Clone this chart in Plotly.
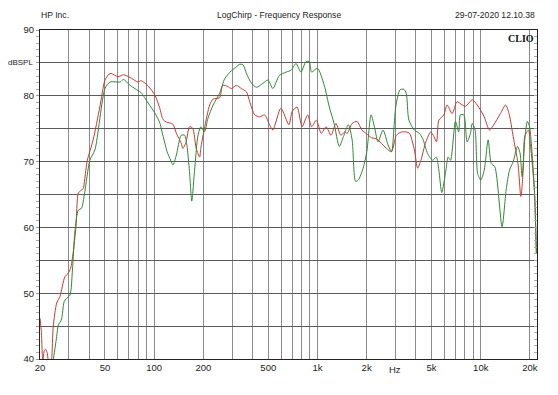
import plotly.graph_objects as go
import math

# ---- data ----
red_freq = [20.0, 20.4, 20.8, 21.2, 21.6, 22.1, 22.7, 23.2, 23.6, 24.1, 25.3, 26.5, 28.4, 29.7, 30.8, 31.9, 33.2, 34.3, 35.5, 36.8, 37.5, 39.0,
            42.3, 46.5, 50.0, 53.0, 54.5, 60.1, 64.9, 71.1, 79.6, 83.1, 91.9, 101.5, 108.0, 113.4, 119.0, 130.0, 136.8, 146.4, 149.9,
            157, 164.6, 172, 181, 190, 193, 203, 218.8, 229.6, 240.3, 251.8, 263.8, 283, 296.8, 318.6, 341.9, 367.4, 384.8, 413,
            442.7, 474.8, 509, 533, 596.9, 669, 700, 750, 805, 871, 921, 985, 1055, 1130, 1211, 1297, 1390, 1467, 1522, 1631,
            1747, 1872, 2006, 2150, 2280, 2414, 2648, 2840, 3044, 3263, 3497, 3660, 3922, 4107, 4300, 4610, 4940, 5170, 5360,
            5540, 5940, 6220, 6680, 7160, 7700, 8070, 8250, 8870, 9510, 10500, 11300, 12000, 13200, 14200, 14900, 15800, 16900,
            17600, 18200, 18600, 19600, 20100, 21300, 21900]
red_db = [46.2, 44.0, 39.5, 41.2, 41.5, 41.0, 39.0, 38.5, 40.0, 44.9, 48.5, 49.5, 52.5, 53.0, 53.8, 56.1, 60.1, 65.2, 65.6, 65.9, 67.2, 70.2,
          73.3, 78.3, 82.4, 83.3, 83.4, 82.9, 83.2, 82.8, 82.1, 82.3, 81.5, 80.0, 78.2, 76.4, 76.0, 75.7, 74.3, 72.8, 72.0,
          73.0, 75.3, 75.1, 72.0, 70.7, 72.0, 75.0, 78.6, 79.5, 79.6, 79.7, 81.6, 81.4, 81.1, 81.6, 81.1, 80.6, 79.1, 77.1,
          76.8, 77.1, 75.6, 74.8, 78.1, 75.6, 77.6, 78.3, 75.3, 77.1, 75.3, 76.3, 74.3, 75.3, 74.0, 75.8, 74.0, 74.5, 74.3, 75.8,
          76.1, 74.8, 74.2, 73.6, 73.5, 73.0, 72.0, 71.5, 74.0, 74.5, 74.5, 74.3, 71.8, 69.0, 70.2, 73.0, 74.5, 73.8, 73.0,
          76.3, 77.1, 78.6, 77.3, 79.1, 78.6, 78.4, 78.6, 79.4, 78.6, 76.8, 74.8, 75.6, 77.3, 78.6, 77.3, 73.8, 69.7,
          64.7, 68.7, 73.8, 74.8, 72.8, 65.7, 56.1]

green_freq = [23.6, 24.1, 25.3, 25.9, 27.0, 28.1, 29.0, 30.5, 31.6, 32.7, 34.3, 35.9, 37.5, 40.4, 43.4, 50.0, 53.7, 61.9, 64.9, 71.1,
              79.6, 83.1, 91.9, 101.5, 108.6, 111, 116.3, 120, 124.8, 130.4, 136.8, 146.4, 153.7, 158.7, 164.6, 170, 176.6, 185.6,
              193.5, 203, 213.6, 229.6, 251.8, 270.6, 296.8, 318.6, 334.7, 350.7, 367.4, 394.6, 423.8, 464.3, 497.6, 533, 585,
              643, 690, 739, 793, 850, 890, 921, 1000, 1100, 1182, 1264, 1361, 1443, 1547, 1631, 1712, 1780, 1904, 2006, 2130,
              2245, 2350, 2520, 2710, 2840, 3015, 3200, 3380, 3497, 3630, 3922, 4200, 4410, 4730, 5080, 5340, 5540, 5770, 6120,
              6310, 6530, 7000, 7330, 7500, 7870, 8250, 8650, 8870, 9230, 9570, 10000, 10500, 11100, 11600, 12200, 13500, 14300,
              15000, 15800, 16800, 17400, 17900, 18700, 19300, 19900, 20400, 21300, 21900]
green_db = [38.0, 39.8, 43.4, 45.2, 45.9, 48.7, 49.2, 49.7, 53.5, 59.3, 62.6, 62.9, 65.2, 70.2, 71.8, 81.1, 82.1, 82.1, 82.5, 81.6,
            80.8, 80.5, 78.9, 77.3, 75.8, 74.8, 72.8, 71.5, 70.5, 69.5, 71.0, 74.0, 74.0, 72.5, 68.5, 64.0, 68.5, 74.0,
            75.3, 74.5, 76.6, 78.6, 80.4, 82.6, 83.8, 84.4, 84.8, 84.7, 83.4, 81.9, 81.3, 81.9, 82.4, 81.1, 83.1,
            83.6, 83.9, 84.9, 83.6, 85.2, 85.2, 83.6, 84.2, 81.6, 78.3, 75.8, 72.3, 73.8, 75.6, 73.3, 67.0, 67.2, 69.0, 71.5, 77.1,
            75.0, 73.0, 74.8, 72.5, 71.5, 78.3, 80.9, 81.0, 80.4, 76.3, 74.8, 74.3, 73.5, 71.2, 70.2, 70.7, 68.7, 65.3, 68.7,
            70.7, 70.2, 76.1, 74.5, 77.1, 77.1, 73.0, 74.3, 75.8, 74.8, 68.2, 67.2, 68.7, 73.3, 69.7, 69.2, 60.1, 65.7,
            68.7, 70.0, 72.3, 71.3, 67.7, 74.0, 76.1, 75.3, 72.8, 65.7, 56.1]

grid_freqs = [20, 30, 40, 50, 60, 70, 80, 90, 100, 200, 300, 400, 500, 600, 700, 800, 900,
              1000, 2000, 3000, 4000, 5000, 6000, 7000, 8000, 9000, 10000, 20000]
labeled = {20: "20", 50: "50", 100: "100", 200: "200", 500: "500", 1000: "1k", 2000: "2k",
           5000: "5k", 10000: "10k", 20000: "20k"}
x_ticktext = [labeled.get(f, "") for f in grid_freqs]
y_vals = [40, 45, 50, 55, 60, 65, 70, 75, 80, 85, 90]
y_text = [str(v) if v % 10 == 0 else "" for v in y_vals]

FONT = "Liberation Sans, Arial, sans-serif"

# page has an 8px body margin, so the figure is 8px smaller and shifted
PL, PT, PW, PH = 40, 30, 497, 329   # plot area in screen pixels

fig = go.Figure()
fig.add_trace(go.Scatter(x=red_freq, y=red_db, mode="lines",
                         line=dict(color="#c83a32", width=1, shape="spline", smoothing=0.7),
                         showlegend=False, hoverinfo="skip"))
fig.add_trace(go.Scatter(x=green_freq, y=green_db, mode="lines",
                         line=dict(color="#2f8a34", width=1, shape="spline", smoothing=0.7),
                         showlegend=False, hoverinfo="skip"))
fig.add_trace(go.Scatter(x=[1000], y=[None], yaxis="y2", mode="lines", showlegend=False, hoverinfo="skip"))

fig.update_layout(
    width=550, height=387,
    margin=dict(l=PL - 8, r=550 - (PL - 8) - PW, t=PT - 8, b=387 - (PT - 8) - PH),
    paper_bgcolor="white", plot_bgcolor="white",
    font=dict(family=FONT, size=10, color="#222"),
    xaxis=dict(type="log", range=[math.log10(20), math.log10(22100)],
               tickmode="array", tickvals=grid_freqs, ticktext=x_ticktext,
               showgrid=True, gridcolor="#8a8a8a", gridwidth=1,
               showline=True, linecolor="#222", linewidth=1, mirror=True,
               ticks="", tickfont=dict(family=FONT, size=9.5, color="#222"),
               zeroline=False),
    yaxis=dict(range=[40, 90], tickmode="array", tickvals=y_vals, ticktext=y_text,
               showgrid=True, gridcolor="#5a5a5a", gridwidth=1,
               showline=True, linecolor="#222", linewidth=1, mirror=True,
               ticks="outside", ticklen=3, tickcolor="#999",
               minor=dict(dtick=1, ticks="outside", ticklen=3, tickcolor="#aaa", showgrid=False),
               tickfont=dict(family=FONT, size=9.5, color="#222"), zeroline=False),
    yaxis2=dict(range=[40, 90], overlaying="y", side="right", showgrid=False,
                showticklabels=False, ticks="inside", ticklen=3, tickcolor="#aaa",
                tickmode="array", tickvals=y_vals,
                minor=dict(dtick=1, ticks="inside", ticklen=3, tickcolor="#aaa"),
                showline=False, zeroline=False),
)

ann = [
    dict(text="HP Inc.", x=39, y=15, xanchor="left", size=8.6),
    dict(text="LogChirp - Frequency Response", x=279, y=15, xanchor="center", size=8.6),
    dict(text="29-07-2020 12.10.38", x=537, y=15, xanchor="right", size=8.6),
    dict(text="dBSPL", x=35, y=63, xanchor="right", size=8),
]
for a in ann:
    fig.add_annotation(text=a["text"], xref="paper", yref="paper",
                       x=(a["x"] - PL) / PW, y=(PT + PH - a["y"]) / PH,
                       xanchor=a["xanchor"], yanchor="middle", showarrow=False,
                       font=dict(family=FONT, size=a["size"], color="#222"))
fig.add_annotation(text="<b>CLIO</b>", xref="paper", yref="paper", x=1.0, y=1.0,
                   xanchor="right", yanchor="top", showarrow=False, xshift=-1, yshift=-1,
                   font=dict(family="Liberation Serif, Times New Roman, serif", size=10, color="#111"))
fig.add_annotation(text="Hz", xref="x", yref="paper", x=math.log10(3000), y=0,
                   xanchor="center", yanchor="top", yshift=-3, showarrow=False,
                   font=dict(family=FONT, size=9.5, color="#222"))

fig.write_html("out.html")
